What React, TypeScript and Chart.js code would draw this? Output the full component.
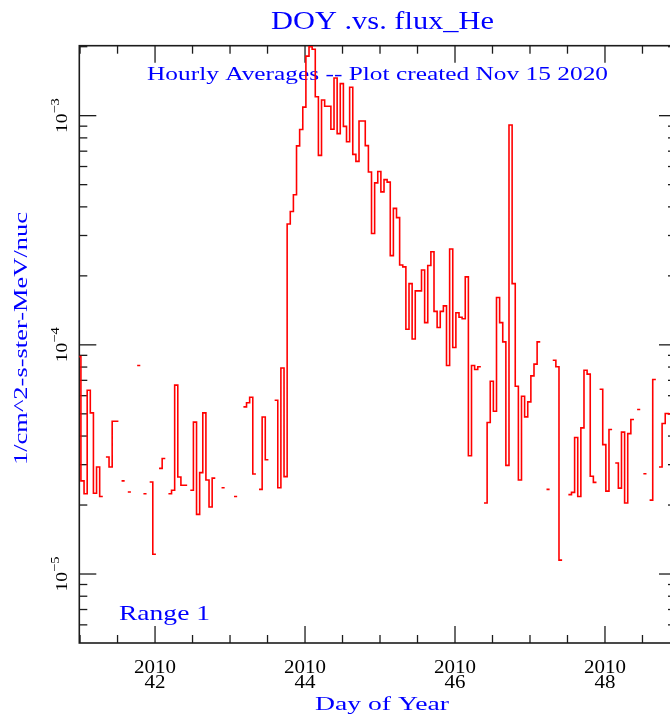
import React, { useEffect, useRef } from 'react';
import { Chart, registerables } from 'chart.js';

Chart.register(...registerables);

// ---------------- data ----------------
const hourStart = 40.97; // DOY of the start of the first hourly bin
const fluxHe: (number | null)[] = [
  8.88e-5, 2.55e-5, 2.24e-5, 6.34e-5, 5.05e-5, 2.25e-5, 2.93e-5, 2.18e-5, null, 3.24e-5,
  2.93e-5, 4.64e-5, 4.64e-5, null, 2.55e-5, null, 2.28e-5, null, null, 8.13e-5,
  null, 2.24e-5, null, 2.52e-5, 1.22e-5, null, 2.89e-5, 3.19e-5, null, 2.24e-5,
  2.32e-5, 6.67e-5, 2.65e-5, 2.44e-5, 2.44e-5, null, 2.32e-5, 4.6e-5, 1.82e-5, 2.77e-5,
  5.05e-5, 2.57e-5, 1.96e-5, 2.62e-5, null, null, 2.38e-5, null, null, null,
  2.18e-5, null, null, 5.36e-5, 5.59e-5, 5.91e-5, 2.73e-5, null, 2.34e-5, 4.84e-5,
  3.15e-5, null, null, 5.73e-5, 2.38e-5, 7.92e-5, 2.66e-5, 3.37e-4, 3.82e-4, 4.52e-4,
  7.38e-4, 8.7e-4, 1.09e-3, 1.82e-3, 2.0e-3, 1.95e-3, 1.21e-3, 6.71e-4, 1.17e-3, 1.1e-3,
  1.1e-3, 8.72e-4, 1.46e-3, 8.35e-4, 1.38e-3, 8.98e-4, 7.69e-4, 1.33e-3, 6.78e-4, 6.32e-4,
  9.48e-4, 9.48e-4, 7.4e-4, 5.68e-4, 3.06e-4, 5.09e-4, 5.71e-4, 4.65e-4, 5.26e-4, 5.13e-4,
  2.45e-4, 3.94e-4, 3.59e-4, 2.23e-4, 2.19e-4, 1.17e-4, 1.85e-4, 1.06e-4, 1.72e-4, 1.72e-4,
  2.12e-4, 1.25e-4, 2.22e-4, 2.55e-4, 1.4e-4, 1.19e-4, 1.4e-4, 1.48e-4, 8.13e-5, 2.62e-4,
  9.74e-5, 1.38e-4, 1.32e-4, 1.3e-4, 1.98e-4, 3.28e-5, 8.13e-5, 7.81e-5, 8.02e-5, null,
  2.04e-5, 4.58e-5, 6.94e-5, 5.13e-5, 1.61e-4, 1.25e-4, 1.03e-4, 2.98e-5, 9.11e-4, 1.85e-4,
  6.6e-5, 2.57e-5, 5.97e-5, 4.85e-5, 5.64e-5, 7.32e-5, 8.24e-5, 1.03e-4, null, null,
  2.34e-5, null, 8.57e-5, 8.02e-5, 1.15e-5, null, null, 2.22e-5, 2.27e-5, 3.94e-5,
  2.18e-5, 4.34e-5, 7.75e-5, 7.45e-5, 2.67e-5, 2.51e-5, null, 6.4e-5, 3.67e-5, 2.3e-5,
  4.27e-5, null, 3.05e-5, 2.37e-5, 4.16e-5, 2.04e-5, 4.1e-5, 4.72e-5, null, 5.22e-5,
  null, 2.74e-5, null, 2.1e-5, 7.06e-5, null, 2.93e-5, 4.54e-5, 5.02e-5, 5.0e-5,
  4.6e-5, 4.6e-5,
];

const xMin = 40.99;
const xMax = 48.947;
const yMin = 5e-6;
const yMax = 2.02e-3;
const xMajorDays = [42, 44, 46, 48];
const xMinorStep = 0.5;
const xYearLabel = '2010';
const yDecadeExps = [-3, -4, -5];
const titleText = 'DOY .vs. flux_He';
const subtitleText = 'Hourly Averages -- Plot created Nov 15 2020';
const yAxisTitle = '1/cm^2-s-ster-MeV/nuc';
const xAxisTitle = 'Day of Year';
const rangeText = 'Range 1';

const BLUE = '#0000ff';
const SERIF = '"Liberation Serif", "DejaVu Serif", serif';
const CANVAS_W = 690;
const CANVAS_H = 719;

function buildPoints() {
  const pts: { x: number; y: number | null }[] = [];
  for (let k = 0; k < fluxHe.length; k++) {
    const v = fluxHe[k];
    if (v == null) continue;
    pts.push({ x: hourStart + k / 24, y: v });
    const next = k + 1 < fluxHe.length ? fluxHe[k + 1] : null;
    if (next == null) {
      pts.push({ x: hourStart + (k + 1) / 24, y: v });
      pts.push({ x: hourStart + (k + 1) / 24 + 1e-5, y: null });
    }
  }
  return pts;
}

function drawFit(
  ctx: CanvasRenderingContext2D,
  text: string,
  x: number,
  y: number,
  size: number,
  color: string,
  width: number | null,
  align: 'center' | 'left',
  rotate = false
) {
  ctx.save();
  ctx.font = `${size}px ${SERIF}`;
  ctx.fillStyle = color;
  ctx.textBaseline = 'alphabetic';
  ctx.textAlign = align;
  const m = ctx.measureText(text).width;
  const sx = width ? width / m : 1;
  ctx.translate(x, y);
  if (rotate) ctx.rotate(-Math.PI / 2);
  ctx.scale(sx, 1);
  ctx.fillText(text, 0, 0);
  ctx.restore();
}

const framePlugin = {
  id: 'frameAndText',
  beforeDatasetsDraw(chart: any) {
    const ctx: CanvasRenderingContext2D = chart.ctx;
    const { left, right, top, bottom } = chart.chartArea;
    const xs = chart.scales.x;
    const ys = chart.scales.y;
    ctx.save();
    ctx.strokeStyle = '#1c1c1c';
    ctx.lineWidth = 1.6;
    ctx.strokeRect(left, top, right - left, bottom - top);
    ctx.lineWidth = 1.3;
    const line = (x1: number, y1: number, x2: number, y2: number) => {
      ctx.beginPath();
      ctx.moveTo(x1, y1);
      ctx.lineTo(x2, y2);
      ctx.stroke();
    };
    for (let d = Math.ceil(xMin / xMinorStep) * xMinorStep; d <= xMax + 1e-9; d += xMinorStep) {
      const px = xs.getPixelForValue(d);
      const len = xMajorDays.includes(d) ? 17 : 8;
      line(px, bottom, px, bottom - len);
      line(px, top, px, top + len);
    }
    for (let e = -6; e <= -2; e++) {
      for (let mm = 1; mm <= 9; mm++) {
        const v = mm * Math.pow(10, e);
        if (v < yMin || v > yMax) continue;
        const py = ys.getPixelForValue(v);
        const len = mm === 1 ? 17 : 8;
        line(left, py, left + len, py);
        line(right, py, right - len, py);
      }
    }
    ctx.restore();

    drawFit(ctx, titleText, 382.5, 28.5, 26, BLUE, 223, 'center');
    drawFit(ctx, subtitleText, 377.5, 80, 18, BLUE, 461, 'center');
    drawFit(ctx, rangeText, 119, 620, 21, BLUE, 91, 'left');
    drawFit(ctx, xAxisTitle, 382, 710, 19.5, BLUE, 134, 'center');
    drawFit(ctx, yAxisTitle, 27, 338.5, 18, BLUE, 253, 'center', true);

    for (const d of xMajorDays) {
      const px = xs.getPixelForValue(d);
      drawFit(ctx, xYearLabel, px, 672.5, 19.5, '#000', 42, 'center');
      drawFit(ctx, String(d), px, 688, 19.5, '#000', 21, 'center');
    }

    for (const e of yDecadeExps) {
      const py = ys.getPixelForValue(Math.pow(10, e));
      ctx.save();
      ctx.translate(67, py);
      ctx.rotate(-Math.PI / 2);
      ctx.fillStyle = '#000';
      ctx.textBaseline = 'alphabetic';
      ctx.textAlign = 'left';
      ctx.font = `17px ${SERIF}`;
      const base = '10';
      const wb = ctx.measureText(base).width * 1.15;
      ctx.font = `12.5px ${SERIF}`;
      const sup = '\u2212' + String(-e);
      const ws = ctx.measureText(sup).width * 1.15;
      const total = wb + ws;
      ctx.save();
      ctx.translate(-total / 2, 0);
      ctx.scale(1.15, 1);
      ctx.font = `17px ${SERIF}`;
      ctx.fillText(base, 0, 0);
      ctx.restore();
      ctx.save();
      ctx.translate(-total / 2 + wb, -8);
      ctx.scale(1.15, 1);
      ctx.font = `12.5px ${SERIF}`;
      ctx.fillText(sup, 0, 0);
      ctx.restore();
      ctx.restore();
    }
  },
};

export default function App() {
  const ref = useRef<HTMLCanvasElement | null>(null);
  useEffect(() => {
    if (!ref.current) return;
    const chart = new Chart(ref.current, {
      type: 'line',
      data: {
        datasets: [
          {
            data: buildPoints() as any,
            borderColor: '#ff0000',
            borderWidth: 1.6,
            pointRadius: 0,
            stepped: 'before',
            spanGaps: false,
            fill: false,
            tension: 0,
          },
        ],
      },
      options: {
        animation: false,
        responsive: false,
        maintainAspectRatio: false,
        events: [],
        layout: { padding: { left: 79.3, right: CANVAS_W - 676, top: 45.7, bottom: CANVAS_H - 643 } },
        scales: {
          x: { type: 'linear', min: xMin, max: xMax, display: false },
          y: { type: 'logarithmic', min: yMin, max: yMax, display: false },
        },
        plugins: {
          legend: { display: false },
          tooltip: { enabled: false },
          title: { display: false },
        },
      },
      plugins: [framePlugin],
    });
    return () => chart.destroy();
  }, []);
  return (
    <div
      style={{
        position: 'fixed',
        left: 0,
        top: 0,
        width: 670,
        height: 719,
        overflow: 'hidden',
        background: '#fff',
      }}
    >
      <canvas
        ref={ref}
        width={CANVAS_W}
        height={CANVAS_H}
        style={{ display: 'block', width: CANVAS_W, height: CANVAS_H }}
      />
    </div>
  );
}
